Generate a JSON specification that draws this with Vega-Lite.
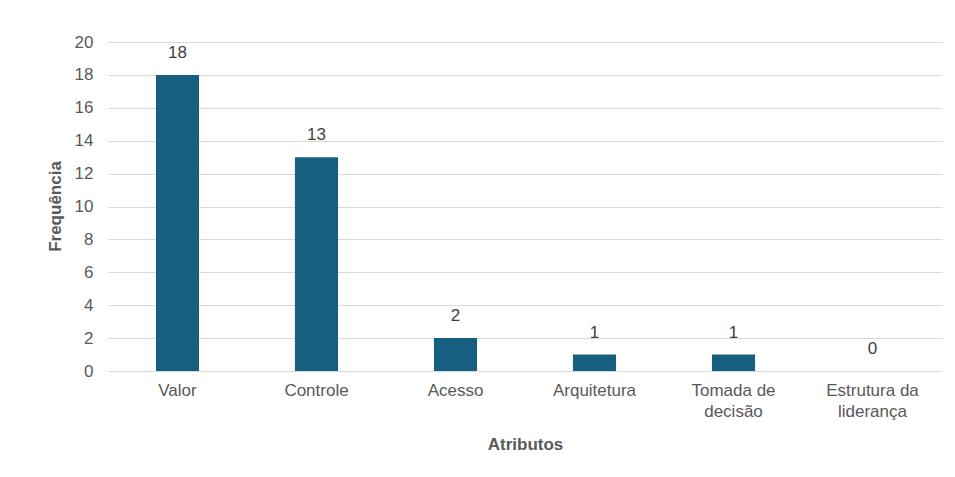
{
  "$schema": "https://vega.github.io/schema/vega-lite/v6.json",
  "width": 834,
  "height": 329,
  "autosize": "none",
  "padding": {"left": 108, "top": 42, "right": 13, "bottom": 106},
  "background": "white",
  "config": {
    "view": {"stroke": null},
    "font": "Liberation Sans",
    "axis": {"labelFont": "Liberation Sans", "titleFont": "Liberation Sans", "labelColor": "#595959", "titleColor": "#595959", "labelFontSize": 17, "titleFontSize": 17}
  },
  "data": {
    "values": [
      {"atributo": "Valor", "frequencia": 18},
      {"atributo": "Controle", "frequencia": 13},
      {"atributo": "Acesso", "frequencia": 2},
      {"atributo": "Arquitetura", "frequencia": 1},
      {"atributo": "Tomada de decisão", "frequencia": 1},
      {"atributo": "Estrutura da liderança", "frequencia": 0}
    ]
  },
  "encoding": {
    "x": {
      "field": "atributo",
      "type": "nominal",
      "sort": null,
      "scale": {"paddingInner": 0.69, "paddingOuter": 0.345},
      "axis": {
        "title": "Atributos",
        "titleFontWeight": "bold",
        "titleY": 73,
        "titleBaseline": "middle",
        "labelAngle": 0,
        "labelPadding": 11,
        "labelLineHeight": 21,
        "labelBaseline": "top",
        "domain": false,
        "ticks": false,
        "labelExpr": "datum.label == 'Tomada de decisão' ? ['Tomada de', 'decisão'] : datum.label == 'Estrutura da liderança' ? ['Estrutura da', 'liderança'] : datum.label"
      }
    },
    "y": {
      "field": "frequencia",
      "type": "quantitative",
      "scale": {"domain": [0, 20], "nice": false},
      "axis": {
        "title": "Frequência",
        "titleFontWeight": "bold",
        "titleX": -53,
        "titleY": 164,
        "titleBaseline": "middle",
        "values": [0, 2, 4, 6, 8, 10, 12, 14, 16, 18, 20],
        "domain": false,
        "ticks": false,
        "labelPadding": 15,
        "gridColor": "#d9d9d9",
        "gridWidth": 1
      }
    }
  },
  "layer": [
    {"mark": {"type": "bar", "color": "#175f80"}},
    {
      "mark": {"type": "text", "baseline": "middle", "dy": -22, "fontSize": 17, "color": "#404040", "font": "Liberation Sans"},
      "encoding": {"text": {"field": "frequencia", "type": "quantitative"}}
    }
  ]
}
